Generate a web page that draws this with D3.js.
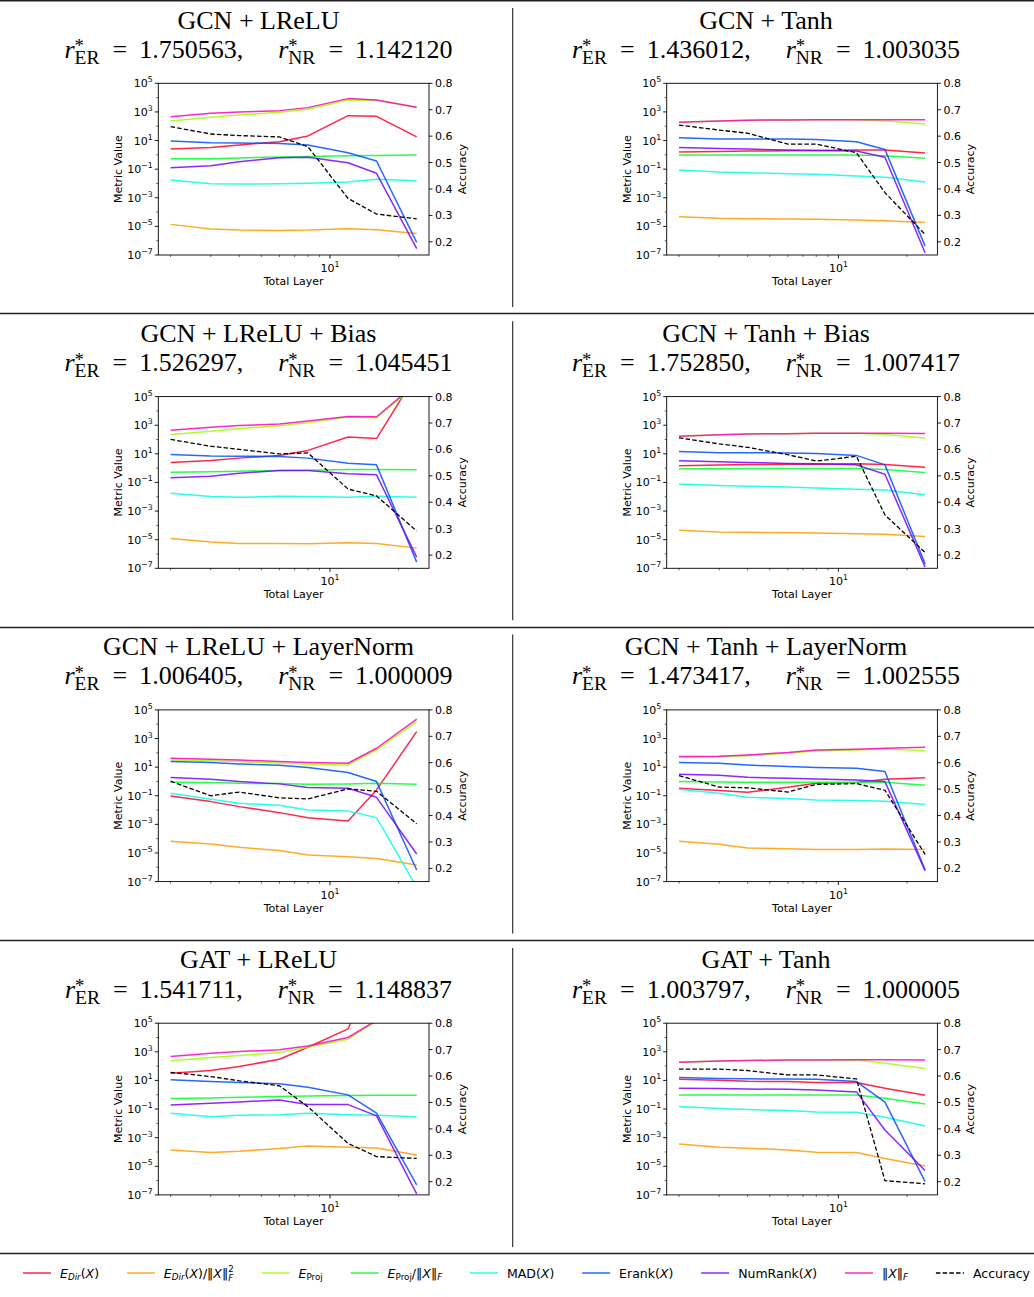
<!DOCTYPE html>
<html><head><meta charset="utf-8">
<script src="https://cdn.jsdelivr.net/npm/d3@7"></script>
<style>body{margin:0;background:#fff} svg{display:block}</style>
</head><body><svg id="c" width="1034" height="1297"></svg>
<script>
// ---------------- DATA ----------------
const layers = [2, 3, 4, 6, 8, 12, 16, 24];
const seriesKeys = ["E_Dir(X)", "E_Dir(X)/||X||_F^2", "E_Proj", "E_Proj/||X||_F", "MAD(X)", "Erank(X)", "NumRank(X)", "||X||_F"];
const seriesColors = ["#ff0029", "#ff9c00", "#9dff00", "#00ff28", "#00ffea", "#004dff", "#7900ff", "#ff00bf"];
const panelTitles = ["GCN + LReLU", "GCN + Tanh", "GCN + LReLU + Bias", "GCN + Tanh + Bias",
  "GCN + LReLU + LayerNorm", "GCN + Tanh + LayerNorm", "GAT + LReLU", "GAT + Tanh"];
const rER = ["1.750563", "1.436012", "1.526297", "1.752850", "1.006405", "1.473417", "1.541711", "1.003797"];
const rNR = ["1.142120", "1.003035", "1.045451", "1.007417", "1.000009", "1.002555", "1.148837", "1.000005"];
const leftTickExps = [5, 3, 1, -1, -3, -5, -7];
const rightTicks = [0.2, 0.3, 0.4, 0.5, 0.6, 0.7, 0.8];

// metric values, stored as log10(value), series order = seriesKeys
const gcnLReLU = [
  [0.41, 0.52, 0.69, 0.92, 1.32, 2.74, 2.69, 1.25],
  [-4.86, -5.19, -5.26, -5.28, -5.26, -5.16, -5.23, -5.49],
  [2.37, 2.62, 2.79, 2.97, 3.18, 3.83, 3.81, 3.30],
  [-0.27, -0.27, -0.22, -0.15, -0.11, -0.06, -0.04, -0.01],
  [-1.76, -2.02, -2.04, -2.02, -1.99, -1.90, -1.71, -1.81],
  [0.97, 0.85, 0.83, 0.80, 0.69, 0.15, -0.43, -6.12],
  [-0.90, -0.76, -0.48, -0.20, -0.17, -0.55, -1.29, -6.56],
  [2.67, 2.90, 3.00, 3.09, 3.30, 3.93, 3.83, 3.32]];
const gcnLReLUAcc = [0.636, 0.608, 0.602, 0.597, 0.560, 0.364, 0.305, 0.287];

const gcnTanh = [
  [0.20, 0.24, 0.26, 0.29, 0.31, 0.33, 0.34, 0.13],
  [-4.32, -4.44, -4.46, -4.49, -4.51, -4.56, -4.60, -4.72],
  [2.27, 2.36, 2.42, 2.44, 2.45, 2.46, 2.39, 2.16],
  [-0.01, -0.01, -0.01, -0.01, -0.01, -0.01, -0.06, -0.24],
  [-1.06, -1.20, -1.25, -1.32, -1.36, -1.48, -1.57, -1.90],
  [1.20, 1.11, 1.11, 1.11, 1.08, 0.92, 0.38, -6.38],
  [0.52, 0.45, 0.40, 0.34, 0.31, 0.27, -0.17, -6.84],
  [2.27, 2.36, 2.42, 2.44, 2.45, 2.46, 2.46, 2.45]];
const gcnTanhAcc = [0.642, 0.623, 0.611, 0.570, 0.570, 0.537, 0.386, 0.228];

const gcnLReLUBias = [
  [0.40, 0.54, 0.70, 0.89, 1.24, 2.18, 2.07, 6.6],
  [-4.91, -5.16, -5.26, -5.26, -5.28, -5.21, -5.26, -5.59],
  [2.35, 2.58, 2.77, 2.96, 3.17, 3.57, 3.52, 5.82],
  [-0.28, -0.26, -0.21, -0.16, -0.14, -0.09, -0.09, -0.12],
  [-1.76, -1.99, -2.04, -1.97, -1.99, -2.04, -1.97, -2.04],
  [0.96, 0.85, 0.83, 0.82, 0.70, 0.35, 0.23, -6.57],
  [-0.68, -0.56, -0.35, -0.16, -0.16, -0.40, -0.47, -6.22],
  [2.65, 2.86, 2.98, 3.08, 3.29, 3.61, 3.59, 5.94]];
const gcnLReLUBiasAcc = [0.638, 0.612, 0.600, 0.583, 0.587, 0.450, 0.424, 0.291];

const gcnTanhBias = [
  [0.16, 0.22, 0.25, 0.28, 0.28, 0.31, 0.26, 0.07],
  [-4.34, -4.46, -4.48, -4.51, -4.53, -4.58, -4.62, -4.77],
  [2.23, 2.33, 2.39, 2.41, 2.43, 2.44, 2.35, 2.11],
  [-0.05, -0.04, -0.03, -0.03, -0.02, -0.02, -0.09, -0.31],
  [-1.10, -1.22, -1.27, -1.31, -1.38, -1.48, -1.53, -1.86],
  [1.17, 1.08, 1.08, 1.06, 1.03, 0.89, 0.23, -6.69],
  [0.52, 0.45, 0.40, 0.33, 0.31, 0.23, -0.43, -6.92],
  [2.23, 2.33, 2.39, 2.41, 2.43, 2.44, 2.44, 2.42]];
const gcnTanhBiasAcc = [0.644, 0.621, 0.608, 0.580, 0.556, 0.574, 0.352, 0.210];

const gcnLReLULN = [
  [-1.01, -1.41, -1.76, -2.18, -2.53, -2.76, -0.59, 3.48],
  [-4.18, -4.37, -4.60, -4.83, -5.14, -5.26, -5.39, -5.84],
  [1.50, 1.44, 1.39, 1.29, 1.20, 1.15, 2.20, 4.18],
  [-0.06, -0.08, -0.13, -0.15, -0.20, -0.18, -0.13, -0.20],
  [-0.83, -1.25, -1.53, -1.67, -1.99, -2.06, -2.53, -7.4],
  [1.39, 1.32, 1.22, 1.13, 0.97, 0.62, -0.01, -6.19],
  [0.27, 0.15, -0.01, -0.17, -0.43, -0.48, -1.11, -5.07],
  [1.62, 1.55, 1.50, 1.39, 1.32, 1.27, 2.32, 4.35]];
const gcnLReLULNAcc = [0.530, 0.475, 0.489, 0.467, 0.463, 0.501, 0.492, 0.369];

const gcnTanhLN = [
  [-0.48, -0.64, -0.76, -0.41, -0.13, -0.08, 0.15, 0.26],
  [-4.18, -4.39, -4.65, -4.70, -4.76, -4.76, -4.72, -4.76],
  [1.69, 1.72, 1.80, 1.97, 2.15, 2.20, 2.27, 2.15],
  [-0.01, -0.04, -0.06, -0.06, -0.06, -0.06, -0.06, -0.27],
  [-0.55, -0.83, -1.11, -1.20, -1.30, -1.34, -1.39, -1.62],
  [1.32, 1.27, 1.15, 1.04, 0.97, 0.92, 0.69, -6.19],
  [0.50, 0.43, 0.29, 0.22, 0.17, 0.10, -0.01, -6.24],
  [1.74, 1.76, 1.85, 2.02, 2.20, 2.25, 2.32, 2.39]];
const gcnTanhLNAcc = [0.551, 0.508, 0.505, 0.489, 0.518, 0.521, 0.496, 0.253];

const gatLReLU = [
  [1.50, 1.69, 1.97, 2.48, 3.32, 4.60, 9.3, 12.0],
  [-3.86, -4.04, -3.95, -3.76, -3.58, -3.67, -3.72, -4.21],
  [2.37, 2.60, 2.74, 2.95, 3.32, 3.88, 5.15, 6.3],
  [-0.27, -0.22, -0.18, -0.12, -0.08, -0.06, -0.04, -0.03],
  [-1.29, -1.53, -1.43, -1.39, -1.29, -1.39, -1.43, -1.53],
  [1.04, 0.92, 0.85, 0.76, 0.52, -0.01, -1.29, -6.30],
  [-0.71, -0.59, -0.50, -0.36, -0.69, -0.69, -1.48, -6.93],
  [2.67, 2.90, 3.02, 3.14, 3.41, 4.00, 5.2, 6.5]];
const gatLReLUAcc = [0.614, 0.598, 0.582, 0.563, 0.484, 0.345, 0.295, 0.288];

const gatTanh = [
  [1.08, 1.01, 0.94, 0.92, 0.85, 0.85, 0.45, -0.03],
  [-3.44, -3.67, -3.74, -3.86, -4.02, -4.04, -4.46, -4.98],
  [2.27, 2.36, 2.39, 2.42, 2.43, 2.44, 2.20, 1.83],
  [-0.01, -0.01, -0.01, -0.01, -0.01, -0.01, -0.24, -0.64],
  [-0.83, -0.97, -1.04, -1.11, -1.20, -1.22, -1.57, -2.18],
  [1.20, 1.13, 1.11, 1.10, 1.08, 0.92, -0.52, -6.07],
  [0.45, 0.43, 0.40, 0.38, 0.34, 0.20, -2.46, -5.30],
  [2.27, 2.36, 2.39, 2.42, 2.43, 2.44, 2.44, 2.42]];
const gatTanhAcc = [0.626, 0.626, 0.621, 0.604, 0.604, 0.589, 0.204, 0.192];

const panelMetrics = [gcnLReLU, gcnTanh, gcnLReLUBias, gcnTanhBias, gcnLReLULN, gcnTanhLN, gatLReLU, gatTanh];
const panelAcc = [gcnLReLUAcc, gcnTanhAcc, gcnLReLUBiasAcc, gcnTanhBiasAcc, gcnLReLULNAcc, gcnTanhLNAcc, gatLReLUAcc, gatTanhAcc];

// ---------------- DRAW ----------------
const W = 1034, H = 1297;
const svg = d3.select("#c");
svg.append("rect").attr("width", W).attr("height", H).attr("fill", "#fff");

const SANS = "'DejaVu Sans', sans-serif";
const SERIF = "'Liberation Serif', 'DejaVu Serif', serif";

// rich text in ONE <text>: pieces {t, it, scale, dy(em), stack} or {gap}; returns total width
function rich(textSel, pieces, fs) {
  let curDy = 0, pendingDx = 0, prevW = 0, x = 0;
  pieces.forEach(p => {
    if (p.gap !== undefined) { pendingDx += p.gap; return; }
    const size = fs * (p.scale || 1);
    const targetDy = (p.dy || 0) * fs;
    let dx = pendingDx;
    if (p.stack) dx -= prevW;
    const ts = textSel.append("tspan").attr("font-size", size)
      .attr("font-style", p.it ? "italic" : "normal")
      .attr("dx", dx).attr("dy", targetDy - curDy).text(p.t);
    curDy = targetDy;
    const w = ts.node().getComputedTextLength();
    x += dx + w;
    if (p.stack) { pendingDx = Math.max(0, prevW - w); }
    else { pendingDx = 0; prevW = w; }
  });
  return x + pendingDx;
}

const rowH = 313.3;
const colLeft = [158.3, 666.7], plotW = 270.7, plotH = 171.7, topY = 83.3;
const titleCx = [258.5, 766];

// frame lines
svg.append("line").attr("x1", 0).attr("x2", W).attr("y1", 0.7).attr("y2", 0.7).attr("stroke", "#222").attr("stroke-width", 1.4);
for (let k = 1; k <= 4; k++) {
  const y = Math.round(rowH * k) + 0.5;
  svg.append("line").attr("x1", 0).attr("x2", W).attr("y1", y).attr("y2", y).attr("stroke", "#222").attr("stroke-width", 1.3);
}
for (let r = 0; r < 4; r++) {
  svg.append("line").attr("x1", 512.7).attr("x2", 512.7).attr("y1", r * rowH + 8).attr("y2", r * rowH + 307)
    .attr("stroke", "#222").attr("stroke-width", 1.1);
}

const lo = Math.log10(layers[0]), hi = Math.log10(layers[layers.length - 1]), mg = 0.05 * (hi - lo);
const TFS1 = 26, TFS2 = 26;

panelMetrics.forEach((metrics, i) => {
  const r = Math.floor(i / 2), c = i % 2;
  const oy = r * rowH;
  const L = colLeft[c], T = topY + oy, R = L + plotW, B = T + plotH;
  const g = svg.append("g");

  // title
  g.append("text").attr("x", titleCx[c]).attr("y", 28.5 + oy).attr("text-anchor", "middle")
    .attr("font-family", SERIF).attr("font-size", TFS1).attr("fill", "#000").text(panelTitles[i]);
  const t2 = g.append("text").attr("y", 57.6 + oy).attr("font-family", SERIF).attr("font-size", TFS2).attr("fill", "#000");
  const w2 = rich(t2, [
    { t: "r", it: true }, { t: "*", scale: 0.72, dy: -0.2 }, { t: "ER", scale: 0.75, dy: 0.24, stack: true },
    { gap: 13 }, { t: "=" }, { gap: 12 }, { t: rER[i] + "," }, { gap: 35 },
    { t: "r", it: true }, { t: "*", scale: 0.72, dy: -0.2 }, { t: "NR", scale: 0.75, dy: 0.24, stack: true },
    { gap: 13 }, { t: "=" }, { gap: 12 }, { t: rNR[i] }
  ], TFS2);
  t2.attr("x", titleCx[c] - w2 / 2);

  const x = d3.scaleLog().domain([Math.pow(10, lo - mg), Math.pow(10, hi + mg)]).range([L, R]);
  const y = d3.scaleLog().domain([1e-7, 1e5]).range([B, T]);
  const ya = d3.scaleLinear().domain([0.15, 0.8]).range([B, T]);

  const clipId = "clip" + i;
  g.append("clipPath").attr("id", clipId).append("rect").attr("x", L).attr("y", T).attr("width", plotW).attr("height", plotH);

  // lines
  const lg = g.append("g").attr("clip-path", `url(#${clipId})`);
  const line = d3.line().x((d, j) => x(layers[j])).y(d => y(Math.pow(10, d)));
  metrics.forEach((s, k) => {
    lg.append("path").attr("d", line(s)).attr("fill", "none").attr("stroke", seriesColors[k])
      .attr("stroke-width", 1.5).attr("stroke-opacity", 0.85).attr("stroke-linejoin", "round");
  });
  const aline = d3.line().x((d, j) => x(layers[j])).y(d => ya(d));
  lg.append("path").attr("d", aline(panelAcc[i])).attr("fill", "none").attr("stroke", "#000")
    .attr("stroke-width", 1.3).attr("stroke-dasharray", "4.5,2.2");

  // frame
  g.append("rect").attr("x", L).attr("y", T).attr("width", plotW).attr("height", plotH)
    .attr("fill", "none").attr("stroke", "#000").attr("stroke-width", 0.9);

  // left ticks
  leftTickExps.forEach(e => {
    const yy = y(Math.pow(10, e));
    g.append("line").attr("x1", L - 3.5).attr("x2", L).attr("y1", yy).attr("y2", yy).attr("stroke", "#000").attr("stroke-width", 0.9);
    const tx = g.append("text").attr("x", L - 5.5).attr("y", yy + 4).attr("text-anchor", "end")
      .attr("font-family", SANS).attr("font-size", 11).attr("fill", "#000");
    tx.append("tspan").text("10");
    tx.append("tspan").attr("dy", -5).attr("font-size", 7.8).text(e < 0 ? "\u2212" + (-e) : String(e));
  });
  [4, 2, 0, -2, -4, -6].forEach(e => {
    const yy = y(Math.pow(10, e));
    g.append("line").attr("x1", L - 2).attr("x2", L).attr("y1", yy).attr("y2", yy).attr("stroke", "#000").attr("stroke-width", 0.6);
  });
  // right ticks
  rightTicks.forEach(v => {
    const yy = ya(v);
    g.append("line").attr("x1", R).attr("x2", R + 3.5).attr("y1", yy).attr("y2", yy).attr("stroke", "#000").attr("stroke-width", 0.9);
    g.append("text").attr("x", R + 6).attr("y", yy + 4).attr("font-family", SANS).attr("font-size", 11).attr("fill", "#000").text(v.toFixed(1));
  });
  // x ticks
  const x10 = x(10);
  g.append("line").attr("x1", x10).attr("x2", x10).attr("y1", B).attr("y2", B + 3.5).attr("stroke", "#000").attr("stroke-width", 0.9);
  const xl = g.append("text").attr("x", x10).attr("y", B + 17).attr("text-anchor", "middle")
    .attr("font-family", SANS).attr("font-size", 11).attr("fill", "#000");
  xl.append("tspan").text("10");
  xl.append("tspan").attr("dy", -5).attr("font-size", 7.8).text("1");
  [2, 3, 4, 5, 6, 7, 8, 9, 20].forEach(v => {
    const xx = x(v);
    g.append("line").attr("x1", xx).attr("x2", xx).attr("y1", B).attr("y2", B + 2).attr("stroke", "#000").attr("stroke-width", 0.6);
  });

  // axis labels
  g.append("text").attr("x", (L + R) / 2).attr("y", B + 30).attr("text-anchor", "middle")
    .attr("font-family", SANS).attr("font-size", 11).attr("fill", "#000").text("Total Layer");
  g.append("text").attr("transform", `translate(${L - 36},${(T + B) / 2}) rotate(-90)`).attr("text-anchor", "middle")
    .attr("font-family", SANS).attr("font-size", 11).attr("fill", "#000").text("Metric Value");
  g.append("text").attr("transform", `translate(${R + 37},${(T + B) / 2}) rotate(-90)`).attr("text-anchor", "middle")
    .attr("font-family", SANS).attr("font-size", 11).attr("fill", "#000").text("Accuracy");
});

// ---------------- LEGEND ----------------
const legendPieces = [
  [{ t: "E", it: true }, { t: "Dir", it: true, scale: 0.7, dy: 0.22 }, { t: "(" }, { t: "X", it: true }, { t: ")" }],
  [{ t: "E", it: true }, { t: "Dir", it: true, scale: 0.7, dy: 0.22 }, { t: "(" }, { t: "X", it: true }, { t: ")/\u2016" }, { t: "X", it: true }, { t: "\u2016" },
   { t: "2", scale: 0.7, dy: -0.42 }, { t: "F", it: true, scale: 0.7, dy: 0.25, stack: true }],
  [{ t: "E", it: true }, { t: "Proj", scale: 0.7, dy: 0.22 }],
  [{ t: "E", it: true }, { t: "Proj", scale: 0.7, dy: 0.22 }, { t: "/\u2016" }, { t: "X", it: true }, { t: "\u2016" }, { t: "F", it: true, scale: 0.7, dy: 0.22 }],
  [{ t: "MAD(" }, { t: "X", it: true }, { t: ")" }],
  [{ t: "Erank(" }, { t: "X", it: true }, { t: ")" }],
  [{ t: "NumRank(" }, { t: "X", it: true }, { t: ")" }],
  [{ t: "\u2016" }, { t: "X", it: true }, { t: "\u2016" }, { t: "F", it: true, scale: 0.7, dy: 0.22 }],
  [{ t: "Accuracy" }]
];
const legColors = seriesColors.concat(["#000"]);
const legG = svg.append("g");
const legY = 1273;
const handle = 28, hgap = 9;
const items = legendPieces.map((p, k) => {
  const txt = legG.append("text").attr("font-family", SANS).attr("font-size", 12.5).attr("fill", "#000");
  const w = rich(txt, p, 12.5);
  return { txt, w, k };
});
const total = items.reduce((s, it) => s + handle + hgap + it.w, 0);
const spacing = (1030 - 23 - total) / (items.length - 1);
let lx = 23;
items.forEach(it => {
  const ln = legG.append("line").attr("x1", lx).attr("x2", lx + handle).attr("y1", legY).attr("y2", legY)
    .attr("stroke", legColors[it.k]).attr("stroke-width", 1.5);
  if (it.k === 8) ln.attr("stroke-dasharray", "4.5,2.2").attr("stroke-width", 1.3);
  else ln.attr("stroke-opacity", 0.85);
  it.txt.attr("x", lx + handle + hgap).attr("y", legY + 4.5);
  lx += handle + hgap + it.w + spacing;
});
</script></body></html>
